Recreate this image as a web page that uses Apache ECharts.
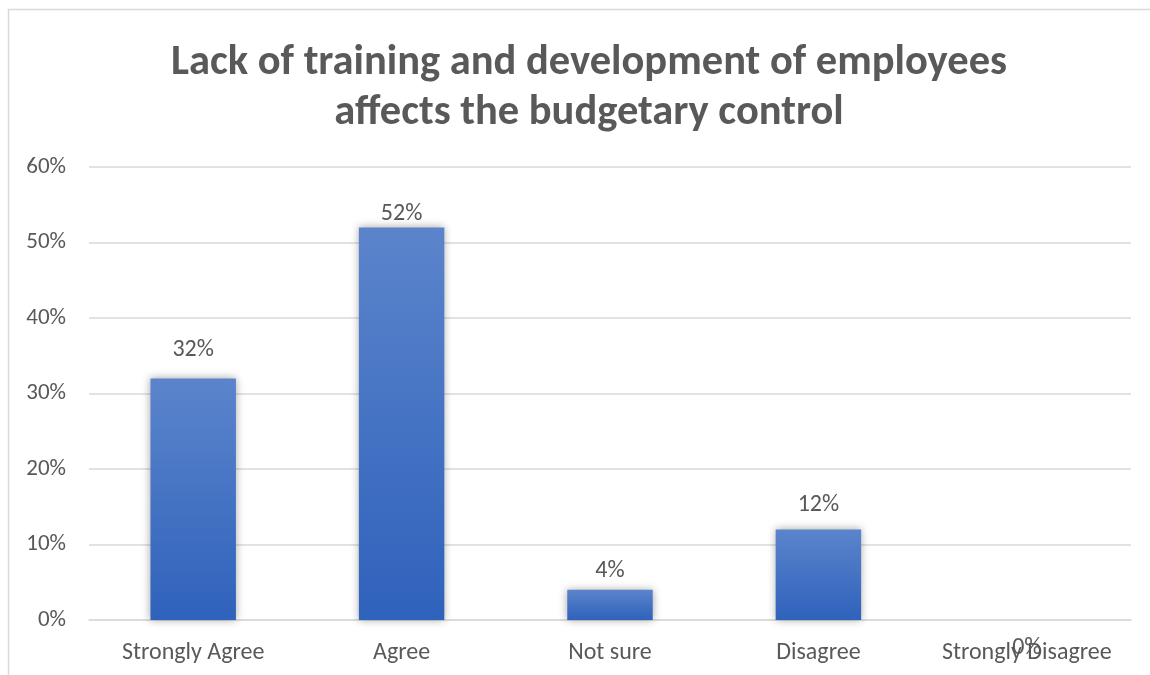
<!DOCTYPE html>
<html>
<head>
<meta charset="utf-8">
<script src="https://cdn.jsdelivr.net/npm/echarts@6/dist/echarts.min.js"></script>
<style>
  html, body { margin: 0; padding: 0; background: #ffffff; }
  #chart { width: 1150px; height: 675px; }
</style>
</head>
<body>
<div id="chart"></div>
<script>
// Survey responses
const categories = ['Strongly Agree', 'Agree', 'Not sure', 'Disagree', 'Strongly Disagree'];
const shares = [0.32, 0.52, 0.04, 0.12, 0.00];
const yTicks = [0, 0.1, 0.2, 0.3, 0.4, 0.5, 0.6];

// Gap between each value label and its bar (the empty bar's label drops below the axis)
const labelGap = [16, 1, 7, 12, -40];

const FONT = 'Carlito, Lato, "Noto Sans", sans-serif';
const TEXT = '#595959';

const pct = v => Math.round(v * 100) + '%';

const chart = echarts.init(document.getElementById('chart'), null, { renderer: 'canvas' });

const barData = shares.map((v, i) => ({
  value: v,
  label: { distance: labelGap[i] }
}));

chart.setOption({
  backgroundColor: '#ffffff',
  animation: false,
  title: {
    text: 'Lack of training and development of employees\naffects the budgetary control',
    left: 584,
    top: 33,
    textAlign: 'center',
    textStyle: {
      fontFamily: FONT,
      fontWeight: 'bold',
      fontSize: 42.5,
      lineHeight: 50,
      color: TEXT
    }
  },
  graphic: [{
    type: 'rect',
    silent: true,
    shape: { x: 8.5, y: 9.5, width: 1200, height: 700 },
    style: { fill: 'none', stroke: '#d9d9d9', lineWidth: 1.5 }
  }],
  grid: { left: 89, right: 19, top: 167, bottom: 55, containLabel: false },
  xAxis: {
    type: 'category',
    data: categories,
    axisTick: { show: false },
    axisLine: { lineStyle: { color: '#d9d9d9', width: 1.5 } },
    axisLabel: {
      color: TEXT, fontFamily: FONT, fontSize: 24, margin: 21,
      interval: 0, hideOverlap: false
    }
  },
  yAxis: {
    type: 'value',
    min: yTicks[0],
    max: yTicks[yTicks.length - 1],
    interval: yTicks[1] - yTicks[0],
    axisLine: { show: false },
    axisTick: { show: false },
    splitLine: { lineStyle: { color: '#d9d9d9', width: 1.5 } },
    axisLabel: { color: TEXT, fontFamily: FONT, fontSize: 23, margin: 23, formatter: pct }
  },
  series: [{
    type: 'bar',
    data: barData,
    barWidth: '41%',
    itemStyle: {
      color: new echarts.graphic.LinearGradient(0, 0, 0, 1, [
        { offset: 0, color: '#5b84cb' },
        { offset: 1, color: '#2f62bc' }
      ]),
      shadowColor: 'rgba(0,0,0,0.35)',
      shadowBlur: 8
    },
    label: {
      show: true,
      position: 'top',
      color: TEXT,
      fontFamily: FONT,
      fontSize: 24,
      formatter: p => pct(p.value)
    }
  }]
});
</script>
</body>
</html>
